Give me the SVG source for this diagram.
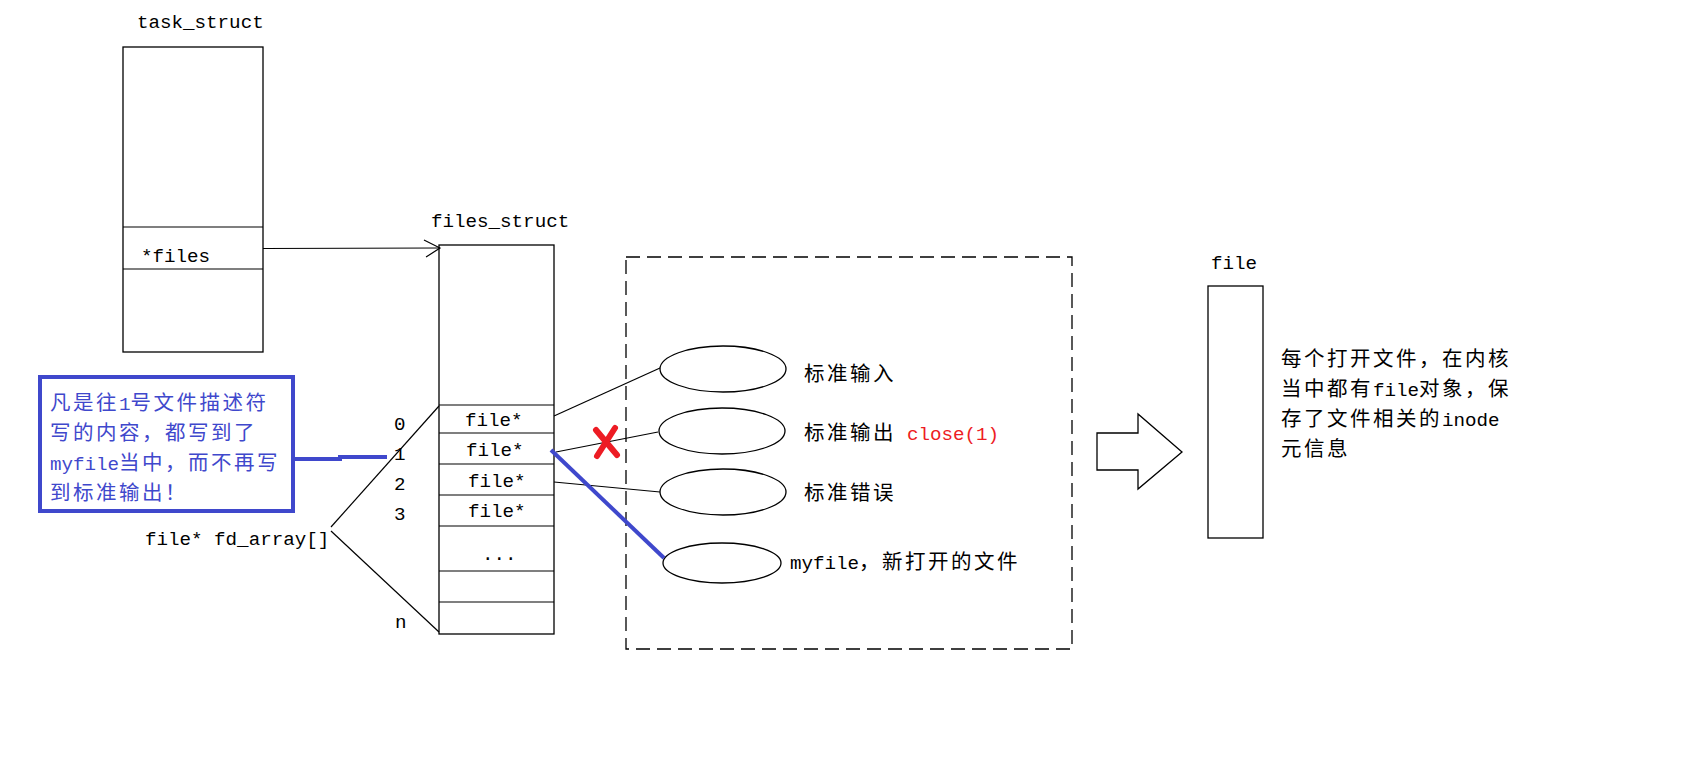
<svg xmlns="http://www.w3.org/2000/svg" width="1703" height="763" viewBox="0 0 1703 763">
<style>
.bx{fill:#fff;stroke:#000;stroke-width:1.3}
.ln{fill:none;stroke:#000;stroke-width:1.2}
.m{font-family:"Liberation Mono","DejaVu Sans Mono",monospace;font-size:19.2px;fill:#000;letter-spacing:0}
.c{font-family:"Noto Sans CJK SC","Noto Sans CJK JP",sans-serif;font-size:20.5px;letter-spacing:2.5px;fill:#000}
.blue{fill:#3F48CC}
.red{fill:#ED1C24}
.bl{fill:none;stroke:#3F48CC;stroke-width:4}
</style>
<defs>
<marker id="open" viewBox="0 0 20 20" refX="18" refY="10" markerWidth="20" markerHeight="20" markerUnits="userSpaceOnUse" orient="auto">
<path d="M2,2 L18,10 L4,19" fill="none" stroke="#000" stroke-width="1.2"/>
</marker>
</defs>
<rect width="1703" height="763" fill="#fff"/>

<g id="task_struct">
<text class="m" x="137" y="28">task_struct</text>
<rect class="bx" x="123" y="47" width="140" height="305"/>
<line class="ln" x1="123" y1="227" x2="263" y2="227"/>
<line class="ln" x1="123" y1="269" x2="263" y2="269"/>
<text class="m" x="141" y="262">*files</text>
</g>

<g id="files_struct">
<text class="m" x="431" y="227">files_struct</text>
<rect class="bx" x="439" y="245" width="115" height="389"/>
<line class="ln" x1="439" y1="405" x2="554" y2="405"/>
<line class="ln" x1="439" y1="433" x2="554" y2="433"/>
<line class="ln" x1="439" y1="464" x2="554" y2="464"/>
<line class="ln" x1="439" y1="495" x2="554" y2="495"/>
<line class="ln" x1="439" y1="526" x2="554" y2="526"/>
<line class="ln" x1="439" y1="571" x2="554" y2="571"/>
<line class="ln" x1="439" y1="602" x2="554" y2="602"/>
<text class="m" x="465" y="426">file*</text>
<text class="m" x="466" y="456">file*</text>
<text class="m" x="468" y="487">file*</text>
<text class="m" x="468" y="517">file*</text>
<text class="m" x="482" y="560">...</text>
<text class="m" x="394" y="430">0</text>
<text class="m" x="394" y="460">1</text>
<text class="m" x="394" y="490">2</text>
<text class="m" x="394" y="520">3</text>
<text class="m" x="395" y="628">n</text>
<text class="m" x="145" y="545">file* fd_array[]</text>
</g>

<g id="note">
<rect x="40" y="377" width="253" height="134" fill="#fff" stroke="#3F48CC" stroke-width="4"/>
<text class="c blue" x="50" y="410">凡是往<tspan class="m blue">1</tspan>号文件描述符</text>
<text class="c blue" x="50" y="440">写的内容，都写到了</text>
<text class="c blue" x="50" y="470"><tspan class="m blue">myfile</tspan>当中，而不再写</text>
<text class="c blue" x="50" y="500">到标准输出！</text>
</g>

<g id="file_objects">
<rect x="626" y="257" width="446" height="392" fill="none" stroke="#000" stroke-width="1.3" stroke-dasharray="14 7"/>
<g id="stdin"><ellipse class="bx" cx="723" cy="369" rx="63" ry="23"/><text class="c" x="804" y="381">标准输入</text></g>
<g id="stdout"><ellipse class="bx" cx="722" cy="431" rx="63" ry="23"/><text class="c" x="804" y="440">标准输出<tspan class="m red" x="907">close(1)</tspan></text></g>
<g id="stderr"><ellipse class="bx" cx="723" cy="492" rx="63" ry="23"/><text class="c" x="804" y="500">标准错误</text></g>
<g id="myfile"><ellipse class="bx" cx="722" cy="563" rx="59" ry="20"/><text class="c" x="790" y="569"><tspan class="m">myfile</tspan>，新打开的文件</text></g>
</g>

<g id="file">
<text class="m" x="1211" y="269">file</text>
<rect class="bx" x="1208" y="286" width="55" height="252"/>
<text class="c" x="1281" y="366">每个打开文件，在内核</text>
<text class="c" x="1281" y="396">当中都有<tspan class="m">file</tspan>对象，保</text>
<text class="c" x="1281" y="426">存了文件相关的<tspan class="m">inode</tspan></text>
<text class="c" x="1281" y="456">元信息</text>
</g>

<g id="big_arrow">
<polygon points="1097,433 1138,433 1138,414 1182,452 1138,489 1138,470 1097,470" fill="#fff" stroke="#000" stroke-width="1.3"/>
</g>

<g id="connectors">
<line class="ln" x1="263" y1="248.5" x2="440" y2="248" marker-end="url(#open)"/>
<line class="ln" x1="331" y1="527" x2="439" y2="406"/>
<line class="ln" x1="331" y1="531" x2="439" y2="632"/>
<line class="ln" x1="554" y1="416" x2="660" y2="368"/>
<line class="ln" x1="556" y1="452" x2="658" y2="432"/>
<line class="ln" x1="554" y1="482" x2="660" y2="492"/>
<line class="bl" x1="551" y1="450" x2="664" y2="558"/>
<polyline class="bl" points="293,459 340,459 340,457 387,457"/>
<g stroke="#ED1C24" stroke-width="6" stroke-linecap="round">
<line x1="596" y1="430" x2="617" y2="455"/>
<line x1="615" y1="428" x2="597" y2="456"/>
</g>
</g>
</svg>
